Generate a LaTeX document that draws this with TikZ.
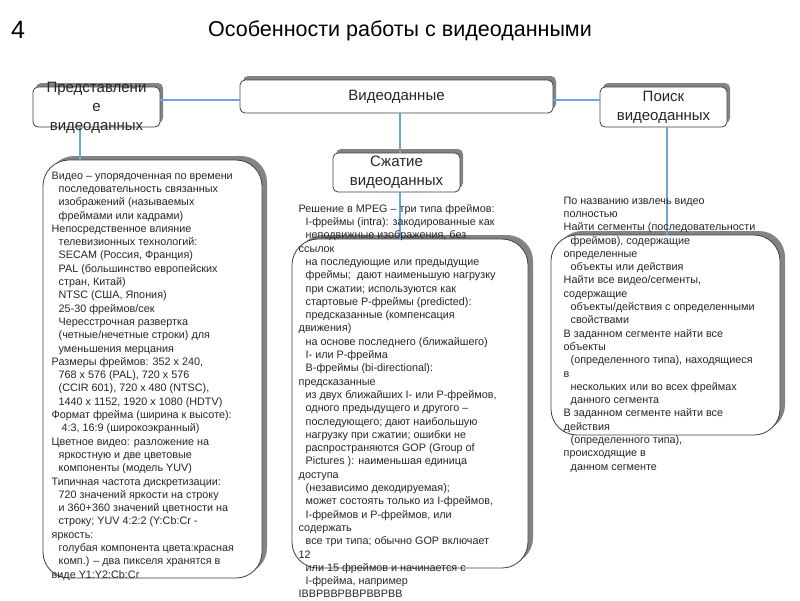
\documentclass[tikz,border=0pt]{standalone}
\usepackage{fontspec}
\setmainfont{Liberation Sans}
\usetikzlibrary{shadows}
\definecolor{linkBlue}{HTML}{6FA3DC}
\definecolor{boxGray}{HTML}{3F3F3F}
\definecolor{shadeGray}{HTML}{5A5A5A}
\newcommand{\indl}{\hspace*{7pt}}

\begin{document}
\begin{tikzpicture}[
    x=1pt, y=-1pt,
    topbox/.style={draw=boxGray, rounded corners=5pt, fill=white, line width=0.8pt, inner sep=0pt,
      drop shadow={shadow xshift=3pt, shadow yshift=4pt, fill=shadeGray, opacity=0.75}},
    bigbox/.style={draw=boxGray, rounded corners=26pt, fill=white, line width=0.8pt, inner sep=0pt,
      drop shadow={shadow xshift=5pt, shadow yshift=4pt, fill=shadeGray, opacity=0.75}},
    toptext/.style={align=center, font=\fontsize{15}{18.8}\selectfont, text=black!85, inner sep=0pt},
    bodytext/.style={align=left, anchor=north west, font=\fontsize{10.8}{13.3}\selectfont, text=black!85, inner sep=0pt},
    link/.style={draw=linkBlue, line width=1.4pt}
  ]
    \useasboundingbox (0,0) rectangle (800,600);

    % title
    \node[font=\fontsize{25}{28}\selectfont] (num) at (18,30) {4};
    \node[font=\fontsize{21.5}{24}\selectfont] (title) at (400,31) {Особенности работы с видеоданными};

    % boxes
    \node[topbox, minimum width=313pt, minimum height=33pt] (video) at (396.5,96.5) {};
    \node[topbox, minimum width=127pt, minimum height=40pt] (repr) at (96.5,107) {};
    \node[topbox, minimum width=127pt, minimum height=40pt] (search) at (663.5,107) {};
    \node[topbox, minimum width=127pt, minimum height=39pt] (compress) at (396.5,172.5) {};
    \node[bigbox, minimum width=219pt, minimum height=418pt] (reprbox) at (152.5,369) {};
    \node[bigbox, minimum width=236pt, minimum height=329pt] (compressbox) at (410,403.5) {};
    \node[bigbox, minimum width=229pt, minimum height=200pt] (searchbox) at (665.5,335) {};

    % connectors
    \draw[link] ([yshift=-3.5pt]video.west) coordinate (vl) -- (vl -| repr.east);
    \draw[link] ([yshift=-3.5pt]video.east) coordinate (vr) -- (vr -| search.west);
    \draw[link] ([xshift=3.5pt]compress.north) coordinate (vc) -- (vc |- video.south);
    \draw[link] ([xshift=-16.5pt]repr.south) coordinate (rs) -- (rs |- reprbox.north);
    \draw[link] ([xshift=3.5pt]search.south) coordinate (ss) -- (ss |- searchbox.north);
    \draw[link] ([xshift=3.5pt]compress.south) coordinate (cs) -- (cs |- compressbox.north);

    % texts
    \node[toptext] (videotext) at (video) {Видеоданные};
    \node[toptext] (reprtext) at (96.5,108) {Представлени\\е\\видеоданных};
    \node[toptext] (searchtext) at (search) {Поиск\\видеоданных};
    \node[toptext] (compresstext) at (compress) {Сжатие\\видеоданных};

    \node[bodytext] (reprbody) at (51.5,171.5) {Видео – упорядоченная по времени\\
      \indl последовательность связанных\\
      \indl изображений (называемых\\
      \indl фреймами или кадрами)\\
      Непосредственное влияние\\
      \indl телевизионных технологий:\\
      \indl SECAM (Россия, Франция)\\
      \indl PAL (большинство европейских\\
      \indl стран, Китай)\\
      \indl NTSC (США, Япония)\\
      \indl 25-30 фреймов/сек\\
      \indl Чересстрочная развертка\\
      \indl (четные/нечетные строки) для\\
      \indl уменьшения мерцания\\
      Размеры фреймов: 352 x 240,\\
      \indl 768 x 576 (PAL), 720 x 576\\
      \indl (CCIR 601), 720 x 480 (NTSC),\\
      \indl 1440 x 1152, 1920 x 1080 (HDTV)\\
      Формат фрейма (ширина к высоте):\\
      \indl\hspace*{3pt}4:3, 16:9 (широкоэкранный)\\
      Цветное видео: разложение на\\
      \indl яркостную и две цветовые\\
      \indl компоненты (модель YUV)\\
      Типичная частота дискретизации:\\
      \indl 720 значений яркости на строку\\
      \indl и 360+360 значений цветности на\\
      \indl строку; YUV 4:2:2 (Y:Cb:Cr -\\
      яркость:\\
      \indl голубая компонента цвета:красная\\
      \indl комп.) – два пикселя хранятся в\\
      виде Y1:Y2:Cb:Cr};

    \node[bodytext] (compressbody) at (298.5,204) {Решение в MPEG – три типа фреймов:\\
      \indl I-фреймы (intra): закодированные как\\
      \indl неподвижные изображения, без\\
      ссылок\\
      \indl на последующие или предыдущие\\
      \indl фреймы;~ дают наименьшую нагрузку\\
      \indl при сжатии; используются как\\
      \indl стартовые P-фреймы (predicted):\\
      \indl предсказанные (компенсация\\
      движения)\\
      \indl на основе последнего (ближайшего)\\
      \indl I- или P-фрейма\\
      \indl B-фреймы (bi-directional):\\
      предсказанные\\
      \indl из двух ближайших I- или P-фреймов,\\
      \indl одного предыдущего и другого –\\
      \indl последующего; дают наибольшую\\
      \indl нагрузку при сжатии; ошибки не\\
      \indl распространяются GOP (Group of\\
      \indl Pictures ): наименьшая единица\\
      доступа\\
      \indl (независимо декодируемая);\\
      \indl может состоять только из I-фреймов,\\
      \indl I-фреймов и P-фреймов, или\\
      содержать\\
      \indl все три типа; обычно GOP включает\\
      12\\
      \indl или 15 фреймов и начинается с\\
      \indl I-фрейма, например\\
      IBBPBBPBBPBBPBB};

    \node[bodytext] (searchbody) at (563.5,196.5) {По названию извлечь видео\\
      полностью\\
      Найти сегменты (последовательности\\
      \indl фреймов), содержащие\\
      определенные\\
      \indl объекты или действия\\
      Найти все видео/сегменты,\\
      содержащие\\
      \indl объекты/действия с определенными\\
      \indl свойствами\\
      В заданном сегменте найти все\\
      объекты\\
      \indl (определенного типа), находящиеся\\
      в\\
      \indl нескольких или во всех фреймах\\
      \indl данного сегмента\\
      В заданном сегменте найти все\\
      действия\\
      \indl (определенного типа),\\
      происходящие в\\
      \indl данном сегменте};
  \end{tikzpicture}
\end{document}
